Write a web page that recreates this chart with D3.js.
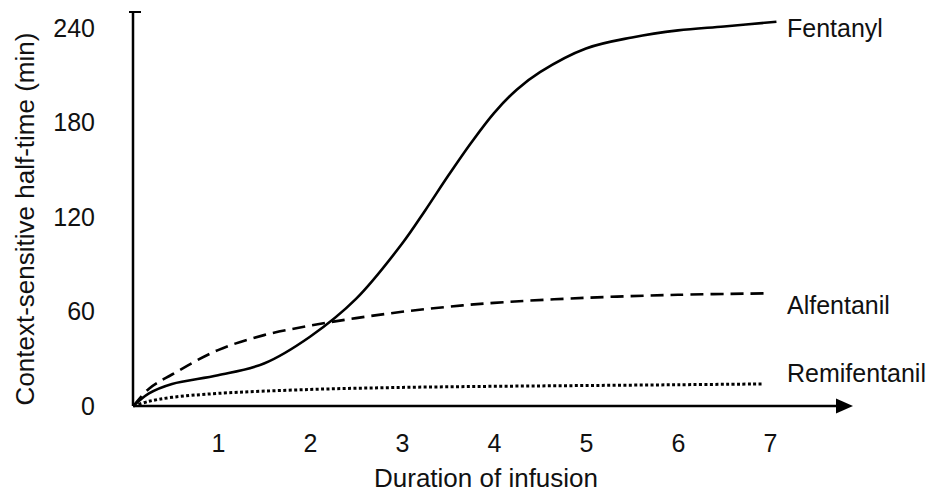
<!DOCTYPE html>
<html>
<head>
<meta charset="utf-8">
<script src="https://cdn.jsdelivr.net/npm/d3@7"></script>
<style>
  body { margin: 0; background: #fff; }
  text { font-family: "Liberation Sans", Arial, sans-serif; fill: #111; }
</style>
</head>
<body>
<svg id="chart" width="932" height="492"></svg>
<script>
// hours of infusion vs context-sensitive half-time (min)
var xTicks = [1, 2, 3, 4, 5, 6, 7];
var yTicks = [0, 60, 120, 180, 240];

var fentanylX = [0.08, 0.25, 0.5, 1, 1.5, 2, 2.5, 3, 3.25, 3.5, 3.75, 4, 4.25, 4.5, 5, 5.5, 6, 6.5, 7.07];
var fentanylY = [0, 8, 14, 19.5, 27, 44, 68, 103, 124, 146, 167, 186, 201, 212, 227, 234, 238.5, 241, 244];

var alfentanilX = [0.08, 0.25, 0.5, 1, 1.5, 2, 2.5, 3, 3.5, 4, 5, 6, 6.95];
var alfentanilY = [0, 11, 20, 35.5, 45, 51, 55.8, 59.8, 63, 65.5, 68.7, 70.6, 71.5];

var remiX = [0.08, 0.25, 0.5, 1, 2, 3, 4, 5, 6, 6.92];
var remiY = [0, 3, 5.5, 8, 10.5, 11.8, 12.5, 13, 13.5, 14];

var names = ["Fentanyl", "Alfentanil", "Remifentanil"];
var labelAt = [240, 64, 21];

var svg = d3.select("#chart");

var x = d3.scaleLinear().domain([0, 7]).range([126, 770]);
var y = d3.scaleLinear().domain([0, 240]).range([406, 28]);
var x0 = 133; // where the y axis sits

function zip(xs, ys) {
  return xs.map(function(v, i) { return [v, ys[i]]; });
}

var series = [
  { name: names[0], pts: zip(fentanylX, fentanylY), dash: null, width: 2.6, lab: labelAt[0] },
  { name: names[1], pts: zip(alfentanilX, alfentanilY), dash: "13,7", width: 2.6, lab: labelAt[1] },
  { name: names[2], pts: zip(remiX, remiY), dash: "3,2.4", width: 3, lab: labelAt[2] }
];

var line = d3.line()
  .x(function(d) { return Math.max(x(d[0]), x0); })
  .y(function(d) { return y(d[1]); })
  .curve(d3.curveCatmullRom.alpha(0.5));

svg.selectAll("path.series")
  .data(series)
  .enter()
  .append("path")
  .attr("class", "series")
  .attr("d", function(d) { return line(d.pts); })
  .attr("fill", "none")
  .attr("stroke", "#000")
  .attr("stroke-width", function(d) { return d.width; })
  .attr("stroke-dasharray", function(d) { return d.dash; });

// end labels
svg.selectAll("text.name")
  .data(series)
  .enter()
  .append("text")
  .attr("class", "name")
  .attr("x", 787)
  .attr("y", function(d) { return y(d.lab); })
  .attr("dy", "0.35em")
  .attr("font-size", "25px")
  .text(function(d) { return d.name; });

// axis lines
svg.append("line")
  .attr("x1", x0).attr("x2", x0)
  .attr("y1", y(0)).attr("y2", 12)
  .attr("stroke", "#000").attr("stroke-width", 2.5);
svg.append("line")
  .attr("x1", 129).attr("x2", 141)
  .attr("y1", 12).attr("y2", 12)
  .attr("stroke", "#000").attr("stroke-width", 2);
svg.append("line")
  .attr("x1", x0).attr("x2", 838)
  .attr("y1", y(0)).attr("y2", y(0))
  .attr("stroke", "#000").attr("stroke-width", 2.5);
svg.append("path")
  .attr("d", "M836," + (y(0) - 7.5) + "L853," + y(0) + "L836," + (y(0) + 7.5) + "Z")
  .attr("fill", "#000");

// tick labels
var xAxis = svg.append("g")
  .attr("transform", "translate(0," + (y(0) + 25) + ")")
  .call(d3.axisBottom(x).tickValues(xTicks).tickSize(0).tickFormat(d3.format("d")));
xAxis.select(".domain").remove();
xAxis.selectAll("text").attr("font-size", "25px").attr("font-family", null);

var yAxis = svg.append("g")
  .attr("transform", "translate(98,0)")
  .call(d3.axisLeft(y).tickValues(yTicks).tickSize(0));
yAxis.select(".domain").remove();
yAxis.selectAll("text").attr("font-size", "25px").attr("font-family", null);

// axis titles
svg.append("text")
  .attr("x", 486).attr("y", 478)
  .attr("dy", "0.35em")
  .attr("text-anchor", "middle")
  .attr("font-size", "26px")
  .text("Duration of infusion");

svg.append("text")
  .attr("transform", "translate(25,219) rotate(-90)")
  .attr("dy", "0.35em")
  .attr("text-anchor", "middle")
  .attr("font-size", "26px")
  .text("Context-sensitive half-time (min)");
</script>
</body>
</html>
